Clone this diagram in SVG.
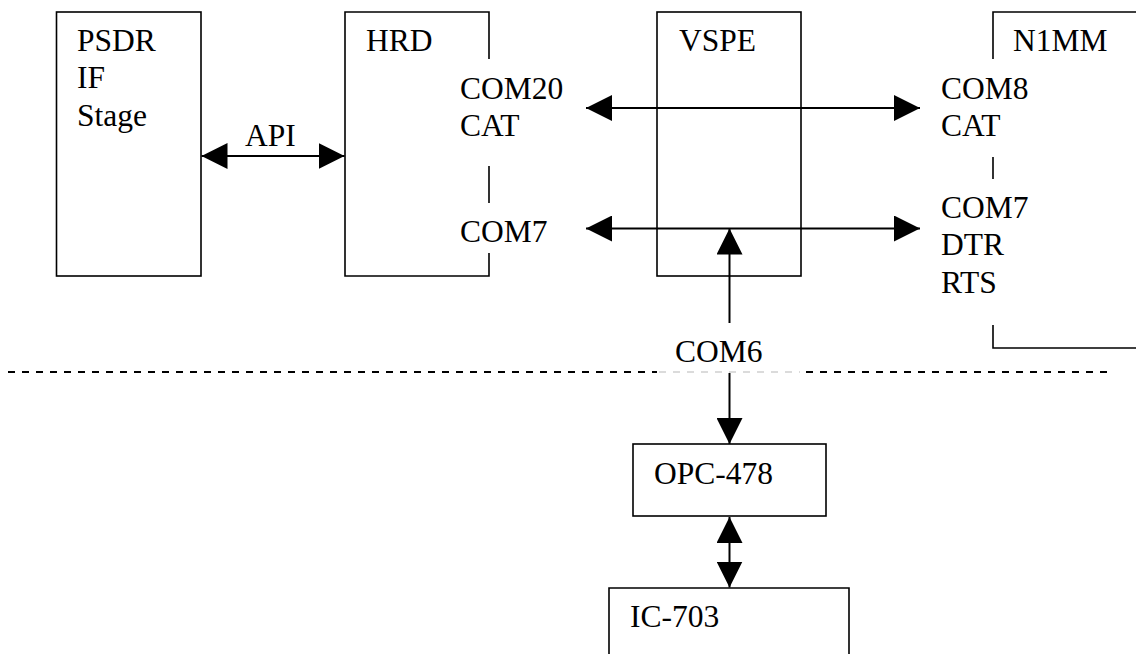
<svg xmlns="http://www.w3.org/2000/svg" width="1136" height="654" viewBox="0 0 1136 654">
<style>
  .box { fill: none; stroke: #000; stroke-width: 1.6; }
  .conn { stroke: #000; stroke-width: 2; fill: none; }
  .t { font-family: 'Liberation Serif', 'DejaVu Serif', serif; font-size: 31.5px; fill: #000; }
</style>
<defs>
  <marker id="ah" viewBox="0 0 26 26" markerWidth="26" markerHeight="26" refX="26" refY="13" orient="auto-start-reverse" markerUnits="userSpaceOnUse">
    <path d="M0,0 L26,13 L0,26 z" fill="#000"/>
  </marker>
</defs>
<rect width="1136" height="654" fill="#fff"/>

<g id="separator">
  <line x1="8" y1="372" x2="657" y2="372" stroke="#000" stroke-width="2" stroke-dasharray="7 7"/>
  <line x1="659" y1="372" x2="800" y2="372" stroke="#cfcfcf" stroke-width="1.5" stroke-dasharray="7 7"/>
  <line x1="806" y1="372" x2="1107" y2="372" stroke="#000" stroke-width="2" stroke-dasharray="7 7"/>
</g>

<g id="psdr" class="t" font-family="Liberation Serif, serif">
  <rect class="box" x="56.5" y="12" width="144.5" height="264"/>
  <text x="77" y="51">PSDR</text>
  <text x="77" y="88">IF</text>
  <text x="77" y="126">Stage</text>
</g>

<g id="hrd" class="t">
  <path class="box" d="M489,59 V12 H345 V276 H489 V253 M489,166 V203"/>
  <text x="366" y="51">HRD</text>
  <text x="460" y="99">COM20</text>
  <text x="460" y="136">CAT</text>
  <text x="460" y="242">COM7</text>
</g>

<g id="vspe" class="t">
  <rect class="box" x="657" y="12" width="144" height="264"/>
  <text x="679" y="51">VSPE</text>
</g>

<g id="n1mm" class="t">
  <path class="box" d="M1140,12 H993 V59 M993,157 V179 M993,325 V348 H1140"/>
  <text x="1013" y="51">N1MM</text>
  <text x="941" y="99">COM8</text>
  <text x="941" y="136">CAT</text>
  <text x="941" y="218">COM7</text>
  <text x="941" y="255">DTR</text>
  <text x="941" y="293">RTS</text>
</g>

<g id="com6" class="t">
  <text x="675" y="362">COM6</text>
</g>

<g id="opc478" class="t">
  <rect class="box" x="633" y="444" width="193" height="72"/>
  <text x="654" y="484">OPC-478</text>
</g>

<g id="ic703" class="t">
  <path class="box" d="M609,660 V588 H849 V660"/>
  <text x="630" y="627">IC-703</text>
</g>

<g id="connectors">
  <text class="t" x="245" y="146">API</text>
  <line class="conn" x1="201.5" y1="156" x2="344.5" y2="156" marker-start="url(#ah)" marker-end="url(#ah)"/>
  <line class="conn" x1="586" y1="108" x2="920" y2="108" marker-start="url(#ah)" marker-end="url(#ah)"/>
  <line class="conn" x1="586" y1="228.5" x2="920" y2="228.5" marker-start="url(#ah)" marker-end="url(#ah)"/>
  <line class="conn" x1="729.5" y1="323" x2="729.5" y2="228.5" marker-end="url(#ah)"/>
  <line class="conn" x1="729.5" y1="373" x2="729.5" y2="444" marker-end="url(#ah)"/>
  <line class="conn" x1="729.5" y1="517" x2="729.5" y2="587.5" marker-start="url(#ah)" marker-end="url(#ah)"/>
</g>
</svg>
